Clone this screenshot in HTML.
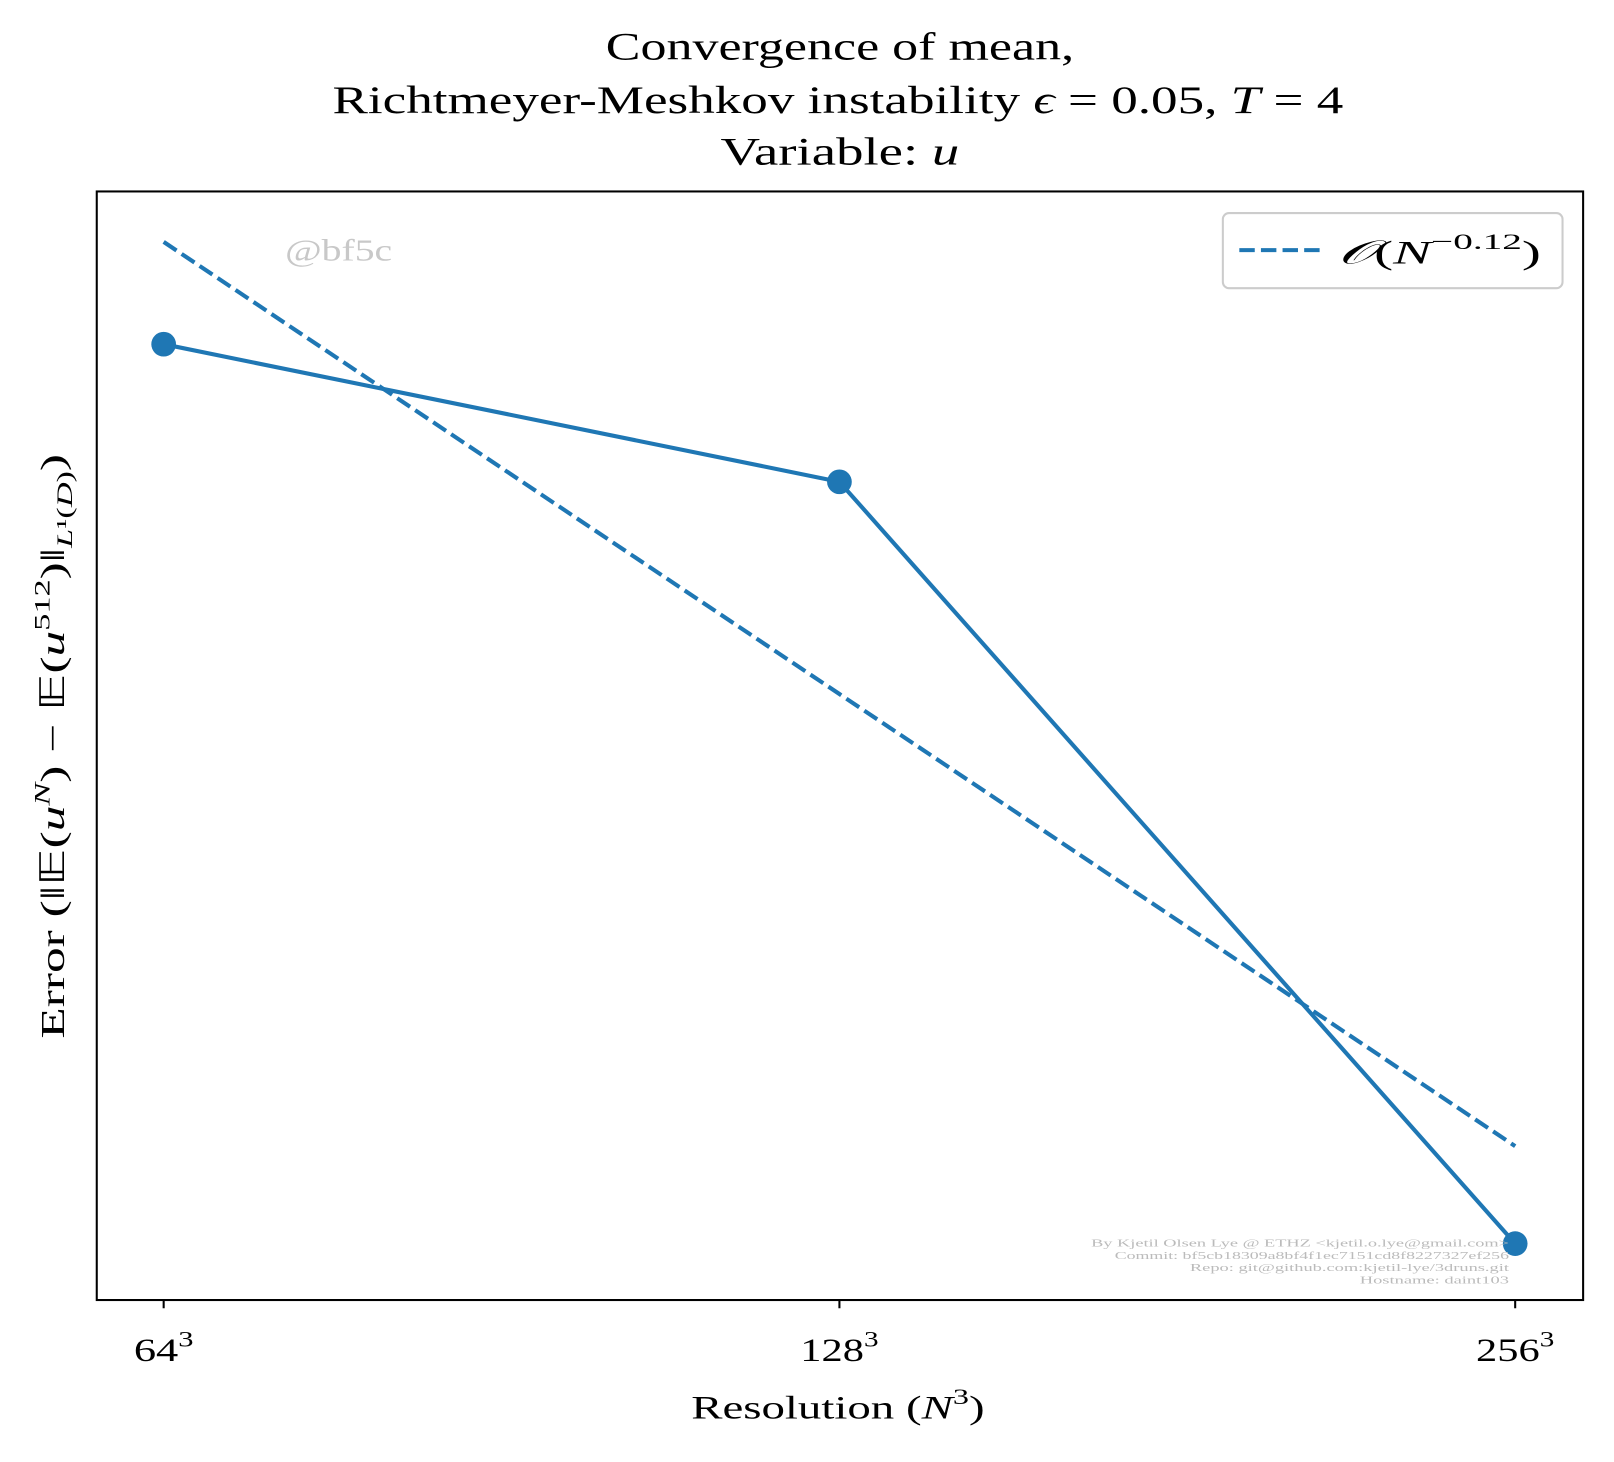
<!DOCTYPE html>
<html><head><meta charset="utf-8"><style>
body{margin:0;background:#fff;}
svg text{font-family:"Liberation Serif",serif;}
</style></head><body>
<svg id="chart" width="1614" height="1457" viewBox="0 0 1568 1415.5" preserveAspectRatio="none" xmlns="http://www.w3.org/2000/svg">
<rect width="1568" height="1416" fill="#fff"/>
<g font-size="38" text-anchor="middle" fill="#000">
<text x="816" y="58" textLength="455" lengthAdjust="spacingAndGlyphs">Convergence of mean,</text>
<text x="814" y="110" textLength="982" lengthAdjust="spacingAndGlyphs">Richtmeyer-Meshkov instability <tspan font-style="italic">ϵ</tspan> = 0.05, <tspan font-style="italic">T</tspan> = 4</text>
<text x="816" y="160" textLength="232" lengthAdjust="spacingAndGlyphs">Variable: <tspan font-style="italic">u</tspan></text>
</g>
<text x="329" y="253" font-size="30" fill="#c8c8c8" text-anchor="middle" textLength="104" lengthAdjust="spacingAndGlyphs">@bf5c</text>
<g id="plot"></g>
<rect x="94" y="186" width="1444" height="1077" fill="none" stroke="#000" stroke-width="2"/>
<g>
<rect x="1188" y="207" width="330" height="73" rx="6" fill="#fff" stroke="#ccc" stroke-width="2"/>
<line x1="1204" y1="243" x2="1282" y2="243" stroke="#1f77b4" stroke-width="4" stroke-dasharray="15,6"/>
<text x="1300" y="256" font-size="32" textLength="197" lengthAdjust="spacingAndGlyphs"><tspan font-style="italic">𝒪</tspan>(<tspan font-style="italic">N</tspan><tspan dy="-14" font-size="22">−0.12</tspan><tspan dy="14">)</tspan></text>
</g>
<g font-size="32" text-anchor="middle" id="xt"></g>
<text x="814" y="1378" font-size="32" text-anchor="middle" textLength="285" lengthAdjust="spacingAndGlyphs">Resolution (<tspan font-style="italic">N</tspan><tspan dy="-14" font-size="22">3</tspan><tspan dy="14">)</tspan></text>
<text transform="translate(62,725) rotate(-90)" font-size="33" text-anchor="middle" textLength="568" lengthAdjust="spacingAndGlyphs">Error (‖𝔼(<tspan font-style="italic">u</tspan><tspan dy="-14" font-size="22" font-style="italic">N</tspan><tspan dy="14">) − 𝔼(</tspan><tspan font-style="italic">u</tspan><tspan dy="-14" font-size="22">512</tspan><tspan dy="14">)‖</tspan><tspan dy="8" font-size="22"><tspan font-style="italic">L</tspan>¹(<tspan font-style="italic">D</tspan>)</tspan><tspan dy="-8">)</tspan></text>
<g font-size="10" fill="#bbb" text-anchor="end">
<text x="1466" y="1211" textLength="406" lengthAdjust="spacingAndGlyphs">By Kjetil Olsen Lye @ ETHZ &lt;kjetil.o.lye@gmail.com&gt;</text>
<text x="1466" y="1223" textLength="383" lengthAdjust="spacingAndGlyphs">Commit: bf5cb18309a8bf4f1ec7151cd8f8227327ef256</text>
<text x="1466" y="1235" textLength="310" lengthAdjust="spacingAndGlyphs">Repo: git@github.com:kjetil-lye/3druns.git</text>
<text x="1466" y="1247" textLength="145" lengthAdjust="spacingAndGlyphs">Hostname: daint103</text>
</g>
</svg>
<script>
const resolutions = [64, 128, 256];
const tickLabels = ["64", "128", "256"];
const errors = [0.0400, 0.0390, 0.0339];
const fitRate = -0.12;
const fitCoef = 0.04076;
const L=94,R=1538,T=186,B=1263;
const xPos=[159,1472];
function xs(n){return xPos[0]+(Math.log2(n)-Math.log2(64))/(Math.log2(256)-Math.log2(64))*(xPos[1]-xPos[0]);}
const yMax=0.04114,yMin=0.03355;
function ys(v){return T+(Math.log10(yMax)-Math.log10(v))/(Math.log10(yMax)-Math.log10(yMin))*(B-T);}
const NS="http://www.w3.org/2000/svg";
const g=document.getElementById('plot');
const fit=resolutions.map(n=>fitCoef*Math.pow(n/64,fitRate));
const dl=document.createElementNS(NS,'polyline');
dl.setAttribute('points',resolutions.map((n,i)=>xs(n)+','+ys(fit[i])).join(' '));
dl.setAttribute('fill','none');dl.setAttribute('stroke','#1f77b4');dl.setAttribute('stroke-width','4');dl.setAttribute('stroke-dasharray','15,6');


g.appendChild(dl);
const pl=document.createElementNS(NS,'polyline');
pl.setAttribute('points',resolutions.map((n,i)=>xs(n)+','+ys(errors[i])).join(' '));
pl.setAttribute('fill','none');pl.setAttribute('stroke','#1f77b4');pl.setAttribute('stroke-width','4');


g.appendChild(pl);
const tw=[58,76,76];
resolutions.forEach((n,i)=>{
 const c=document.createElementNS(NS,'circle');
 c.setAttribute('cx',xs(n));c.setAttribute('cy',ys(errors[i]));c.setAttribute('r','12');c.setAttribute('fill','#1f77b4');
 
 
 g.appendChild(c);
 const t=document.createElementNS(NS,'line');
 t.setAttribute('x1',xs(n));t.setAttribute('x2',xs(n));t.setAttribute('y1',B);t.setAttribute('y2',B+8);t.setAttribute('stroke','#000');t.setAttribute('stroke-width','2');
 
 
 g.appendChild(t);
 const lb=document.createElementNS(NS,'text');
 lb.setAttribute('x',xs(n));lb.setAttribute('y',1322);
 lb.setAttribute('textLength',tw[i]);lb.setAttribute('lengthAdjust','spacingAndGlyphs');
 lb.innerHTML=tickLabels[i]+'<tspan dy="-14" font-size="22">3</tspan>';
 
 
 document.getElementById('xt').appendChild(lb);
});
</script>
</body></html>
